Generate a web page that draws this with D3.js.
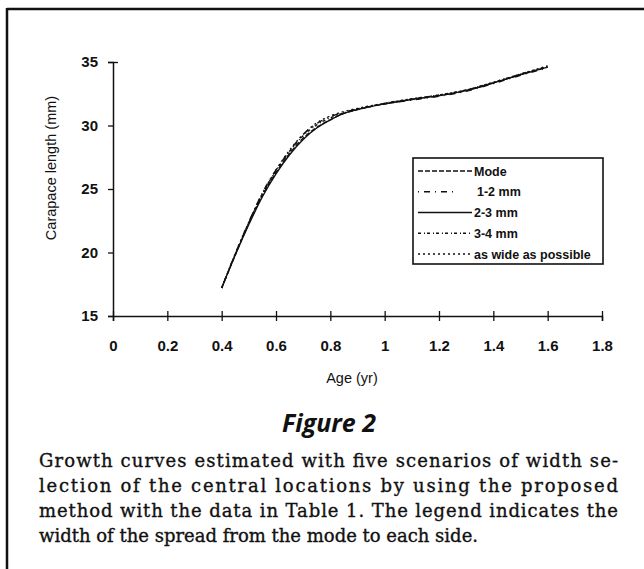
<!DOCTYPE html>
<html>
<head>
<meta charset="utf-8">
<script src="https://cdn.jsdelivr.net/npm/d3@7"></script>
<style>
  body { margin: 0; background: #fff; }
  svg { display: block; }
</style>
</head>
<body>
<div id="vis"></div>
<script>
// ages (yr) shared by every scenario
var ages = [0.40, 0.45, 0.50, 0.55, 0.60, 0.65, 0.70, 0.75, 0.80, 0.85, 0.90, 1.00, 1.10, 1.20, 1.30, 1.40, 1.50, 1.60];

// carapace length (mm) for each width scenario
var modeVals  = [17.2, 19.8, 22.3, 24.5, 26.3, 27.8, 29.0, 29.85, 30.45, 30.95, 31.25, 31.7, 32.05, 32.35, 32.75, 33.35, 34.0, 34.6];
var w12Vals   = [17.2, 19.9, 22.4, 24.7, 26.5, 28.0, 29.3, 30.15, 30.7, 31.05, 31.3, 31.7, 32.0, 32.3, 32.7, 33.3, 33.95, 34.55];
var w23Vals   = [17.2, 19.8, 22.2, 24.4, 26.2, 27.7, 28.9, 29.8, 30.45, 30.95, 31.25, 31.7, 32.05, 32.35, 32.75, 33.35, 34.0, 34.6];
var w34Vals   = [17.2, 19.85, 22.35, 24.6, 26.45, 27.95, 29.2, 30.05, 30.6, 31.0, 31.3, 31.75, 32.1, 32.4, 32.8, 33.4, 34.05, 34.65];
var wideVals  = [17.2, 19.9, 22.4, 24.65, 26.5, 28.05, 29.3, 30.2, 30.75, 31.1, 31.35, 31.75, 32.1, 32.4, 32.8, 33.4, 34.05, 34.7];

var seriesNames = ['Mode', '1-2 mm', '2-3 mm', '3-4 mm', 'as wide as possible'];
var seriesDash  = ['5,2', '1,5,6,5', null, '3,3,1,2', '2,3'];

var xTicks = [0, 0.2, 0.4, 0.6, 0.8, 1, 1.2, 1.4, 1.6, 1.8];
var xTickLabels = ['0', '0.2', '0.4', '0.6', '0.8', '1', '1.2', '1.4', '1.6', '1.8'];
var yTicks = [15, 20, 25, 30, 35];
var yTickLabels = ['15', '20', '25', '30', '35'];

var captionLines = [
  'Growth curves estimated with five scenarios of width se-',
  'lection of the central locations by using the proposed',
  'method with the data in Table 1. The legend indicates the',
  'width of the spread from the mode to each side.'
];

var allVals = [modeVals, w12Vals, w23Vals, w34Vals, wideVals];

const width = 644;
const height = 569;

var svg = d3.select('#vis')
  .append('svg')
  .attr('width', width)
  .attr('height', height);

// page frame (top and left rules of the scanned box)
svg.append('line').attr('x1', 7).attr('x2', 644).attr('y1', 9).attr('y2', 9)
  .attr('stroke', '#111').attr('stroke-width', 2.5);
svg.append('line').attr('x1', 7).attr('x2', 7).attr('y1', 8).attr('y2', 569)
  .attr('stroke', '#111').attr('stroke-width', 2.5);

// scales
var x = d3.scaleLinear().domain([0, 1.8]).range([113, 602]);
var y = d3.scaleLinear().domain([15, 35]).range([316, 62]);

// x axis - ticks cross the line
var xAxis = d3.axisBottom(x)
  .tickValues(xTicks)
  .tickFormat((d, i) => xTickLabels[i])
  .tickSizeOuter(0)
  .tickSize(5)
  .tickPadding(19);

var gx = svg.append('g')
  .attr('transform', 'translate(0,' + y(15) + ')')
  .call(xAxis);
gx.select('.domain').attr('stroke', '#111').attr('stroke-width', 1.5);
gx.selectAll('.tick line').attr('y1', -5).attr('stroke', '#111').attr('stroke-width', 1.3);
gx.selectAll('.tick text')
  .attr('font-family', 'Liberation Sans, Arial, sans-serif')
  .attr('font-weight', 'bold')
  .attr('font-size', 15)
  .attr('fill', '#111');

// y axis
var yAxis = d3.axisLeft(y)
  .tickValues(yTicks)
  .tickFormat((d, i) => yTickLabels[i])
  .tickSizeOuter(0)
  .tickSize(5)
  .tickPadding(10);

var gy = svg.append('g')
  .attr('transform', 'translate(' + x(0) + ',0)')
  .call(yAxis);
gy.select('.domain').attr('stroke', '#111').attr('stroke-width', 1.5);
gy.selectAll('.tick line').attr('x2', -5).attr('x1', 1).attr('stroke', '#111').attr('stroke-width', 1.3);
gy.selectAll('.tick line').filter(d => d == 35).attr('x1', 5).attr('x2', -5);
gy.selectAll('.tick text')
  .attr('font-family', 'Liberation Sans, Arial, sans-serif')
  .attr('font-weight', 'bold')
  .attr('font-size', 15)
  .attr('fill', '#111');

// axis titles
svg.append('text')
  .attr('x', 352)
  .attr('y', 383)
  .attr('text-anchor', 'middle')
  .attr('font-family', 'Liberation Sans, Arial, sans-serif')
  .attr('font-size', 14.5)
  .attr('fill', '#111')
  .text('Age (yr)');

svg.append('text')
  .attr('transform', 'translate(56,168) rotate(-90)')
  .attr('text-anchor', 'middle')
  .attr('font-family', 'Liberation Sans, Arial, sans-serif')
  .attr('font-size', 14.5)
  .attr('fill', '#111')
  .text('Carapace length (mm)');

// growth curves
var line = d3.line()
  .x((d, i) => x(ages[i]))
  .y(d => y(d))
  .curve(d3.curveMonotoneX);

svg.append('g').selectAll('path')
  .data(allVals)
  .enter()
  .append('path')
  .attr('d', d => line(d))
  .attr('fill', 'none')
  .attr('stroke', '#111')
  .attr('stroke-width', 1.4)
  .attr('stroke-dasharray', (d, i) => seriesDash[i]);

// legend
var legend = svg.append('g');
legend.append('rect')
  .attr('x', 413).attr('y', 158)
  .attr('width', 190).attr('height', 106)
  .attr('fill', '#fff')
  .attr('stroke', '#111')
  .attr('stroke-width', 1.6);

var rowY = d3.scalePoint().domain(seriesNames).range([171, 254]);

var rows = legend.selectAll('.row')
  .data(seriesNames)
  .enter()
  .append('g')
  .attr('class', 'row')
  .attr('transform', d => 'translate(0,' + rowY(d) + ')');

rows.append('line')
  .attr('x1', 418).attr('x2', (d, i) => i == 1 ? 458 : 472)
  .attr('y1', 0).attr('y2', 0)
  .attr('stroke', '#111')
  .attr('stroke-width', 1.4)
  .attr('stroke-dasharray', (d, i) => seriesDash[i]);

rows.append('text')
  .attr('x', (d, i) => i == 1 ? 477 : 474)
  .attr('y', 4.5)
  .attr('font-family', 'Liberation Sans, Arial, sans-serif')
  .attr('font-weight', 'bold')
  .attr('font-size', 12.5)
  .attr('fill', '#111')
  .text(d => d);

// figure title and caption
svg.append('text')
  .attr('x', 329)
  .attr('y', 432)
  .attr('text-anchor', 'middle')
  .attr('font-family', 'Open Sans, Liberation Sans, sans-serif')
  .attr('font-weight', 'bold')
  .attr('font-style', 'italic')
  .attr('font-size', 25)
  .attr('fill', '#111')
  .text('Figure 2');

svg.append('g').selectAll('text')
  .data(captionLines)
  .enter()
  .append('text')
  .attr('x', 39)
  .attr('y', (d, i) => 467 + i * 25)
  .attr('font-family', 'DejaVu Serif, serif')
  .attr('font-size', 18)
  .attr('fill', '#111')
  .attr('stroke', '#111')
  .attr('stroke-width', 0.35)
  .attr('textLength', (d, i) => i < 3 ? 579 : null)
  .attr('lengthAdjust', 'spacing')
  .text(d => d);
</script>
</body>
</html>
